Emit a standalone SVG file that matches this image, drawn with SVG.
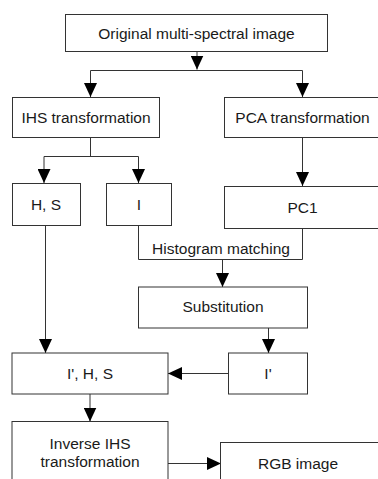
<svg xmlns="http://www.w3.org/2000/svg" width="378" height="479" viewBox="0 0 378 479">
<style>
.box{fill:#fff;stroke:#333;stroke-width:1}
.c{fill:none;stroke:#333;stroke-width:1}
text{font-family:"Liberation Sans",Arial,sans-serif;font-size:15.5px;fill:#1a1a1a;text-anchor:middle}
</style>
<defs>
<marker id="ah" markerUnits="userSpaceOnUse" markerWidth="14" markerHeight="13" refX="14" refY="6.5" orient="auto">
<path d="M0,0 L14,6.5 L0,13 z" fill="#000"/>
</marker>
</defs>
<rect width="378" height="479" fill="#fff"/>
<g id="connectors">
<line class="c" x1="197" y1="51.5" x2="197" y2="69.5" marker-end="url(#ah)"/>
<line class="c" x1="90.5" y1="70.5" x2="302.5" y2="70.5"/>
<line class="c" x1="90.5" y1="70.5" x2="90.5" y2="97" marker-end="url(#ah)"/>
<line class="c" x1="302.5" y1="70.5" x2="302.5" y2="97" marker-end="url(#ah)"/>
<line class="c" x1="90.5" y1="137.5" x2="90.5" y2="156.5"/>
<line class="c" x1="44" y1="156.5" x2="138.5" y2="156.5"/>
<line class="c" x1="44" y1="156.5" x2="44" y2="183" marker-end="url(#ah)"/>
<line class="c" x1="138.5" y1="156.5" x2="138.5" y2="183" marker-end="url(#ah)"/>
<line class="c" x1="302.5" y1="137.5" x2="302.5" y2="186" marker-end="url(#ah)"/>
<polyline class="c" points="138.5,225.5 138.5,259.5 302.5,259.5 302.5,228.5"/>
<line class="c" x1="222.5" y1="259.5" x2="222.5" y2="287" marker-end="url(#ah)"/>
<line class="c" x1="268.5" y1="328" x2="268.5" y2="353" marker-end="url(#ah)"/>
<line class="c" x1="228.5" y1="373.5" x2="168" y2="373.5" marker-end="url(#ah)"/>
<line class="c" x1="45.5" y1="225.5" x2="45.5" y2="353" marker-end="url(#ah)"/>
<line class="c" x1="90" y1="394" x2="90" y2="421.5" marker-end="url(#ah)"/>
<line class="c" x1="168" y1="463.5" x2="221" y2="463.5" marker-end="url(#ah)"/>
<text x="221" y="254">Histogram matching</text>
</g>
<g id="original"><rect class="box" x="65.5" y="14.5" width="262" height="37"/><text x="196.5" y="38.5">Original multi-spectral image</text></g>
<g id="ihs"><rect class="box" x="12.5" y="97.5" width="147" height="40"/><text x="86" y="123">IHS transformation</text></g>
<g id="pca"><rect class="box" x="224.5" y="97.5" width="157" height="40"/><text x="302.5" y="123">PCA transformation</text></g>
<g id="hs"><rect class="box" x="12.5" y="183.5" width="68" height="42"/><text x="46" y="210">H, S</text></g>
<g id="i"><rect class="box" x="106.5" y="183.5" width="65" height="42"/><text x="139" y="210">I</text></g>
<g id="pc1"><rect class="box" x="224.5" y="186.5" width="157" height="42"/><text x="302.5" y="213">PC1</text></g>
<g id="substitution"><rect class="box" x="138.5" y="287" width="169" height="41"/><text x="223" y="312">Substitution</text></g>
<g id="iprime"><rect class="box" x="228.5" y="353" width="79" height="41"/><text x="268" y="379">I'</text></g>
<g id="ihsprime"><rect class="box" x="12" y="353" width="156" height="41"/><text x="90" y="379">I', H, S</text></g>
<g id="inverse"><rect class="box" x="12" y="421.5" width="156" height="70"/><text x="90" y="449">Inverse IHS</text><text x="90" y="467">transformation</text></g>
<g id="rgb"><rect class="box" x="220.5" y="442.5" width="160" height="60"/><text x="298" y="469">RGB image</text></g>
</svg>
